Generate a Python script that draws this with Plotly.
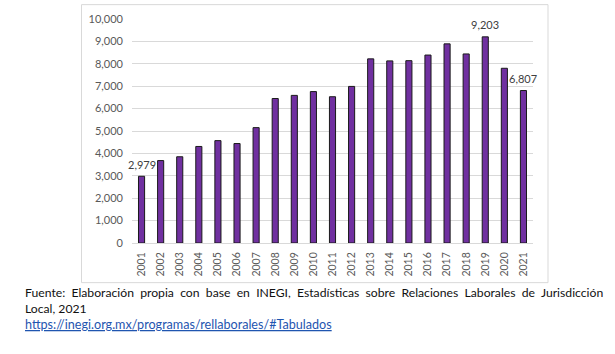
import plotly.graph_objects as go

years = list(range(2001, 2022))
values = [2979, 3680, 3850, 4310, 4570, 4440, 5150, 6450, 6590, 6760, 6530,
          6990, 8220, 8130, 8140, 8390, 8890, 8440, 9203, 7800, 6807]
labeled_years = [2001, 2019, 2021]

fig = go.Figure()
fig.add_trace(go.Bar(
    x=years, y=values,
    marker=dict(color="#7030A0", line=dict(color="#1a1a1a", width=1)),
    width=0.32,
    hoverinfo="x+y",
))

for yr, v in zip(years, values):
    if yr in labeled_years:
        fig.add_annotation(x=yr, y=v, xref="x", yref="y", text=f"{v:,}", showarrow=False,
                           yshift=12, font=dict(family="Lato", size=11, color="#404040"))

W, H = 615, 354
L, R, T, B = 132, 82, 17, 111
pw, ph = W - L - R, H - T - B

def px(x):
    return (x - L) / pw

def py(y):
    return (H - B - y) / ph

# chart area border
fig.add_shape(type="rect", xref="paper", yref="paper",
              x0=px(81.5), x1=px(548), y0=py(283), y1=py(2.5),
              line=dict(color="#d9d9d9", width=1), fillcolor="rgba(0,0,0,0)", layer="below")

foot_font = dict(family="Lato", size=12.2, color="#111111")
fig.add_annotation(xref="paper", yref="paper", x=px(23), y=py(293), xanchor="left", yanchor="middle",
                   text="Fuente:  Elaboración  propia  con  base  en  INEGI,  Estadísticas  sobre  Relaciones  Laborales  de  Jurisdicción",
                   showarrow=False, font=foot_font)
fig.add_annotation(xref="paper", yref="paper", x=px(23), y=py(309), xanchor="left", yanchor="middle",
                   text="Local, 2021", showarrow=False, font=foot_font)
fig.add_annotation(xref="paper", yref="paper", x=px(23), y=py(325), xanchor="left", yanchor="middle",
                   text="<u>https://inegi.org.mx/programas/rellaborales/#Tabulados</u>", showarrow=False,
                   font=dict(family="Lato", size=12.6, color="#1F55B0"))

fig.update_layout(
    width=W, height=H,
    margin=dict(l=L, r=R, t=T, b=B),
    paper_bgcolor="white", plot_bgcolor="white",
    showlegend=False,
    xaxis=dict(range=[2000.5, 2021.5], tickmode="array", tickvals=years,
               ticktext=[str(y) for y in years], tickangle=-90, showgrid=False,
               showline=True, linecolor="#d9d9d9", linewidth=1, ticks="", zeroline=False,
               ticklabelstandoff=4,
               tickfont=dict(family="Lato", size=10.5, color="#595959")),
    yaxis=dict(range=[0, 10000], tickvals=list(range(0, 10001, 1000)), tickformat=",d",
               showgrid=True, gridcolor="#d9d9d9", gridwidth=1, zeroline=False,
               showline=False, ticks="", ticklabelstandoff=8,
               tickfont=dict(family="Lato", size=11, color="#595959")),
)

fig.write_html("out.html")
